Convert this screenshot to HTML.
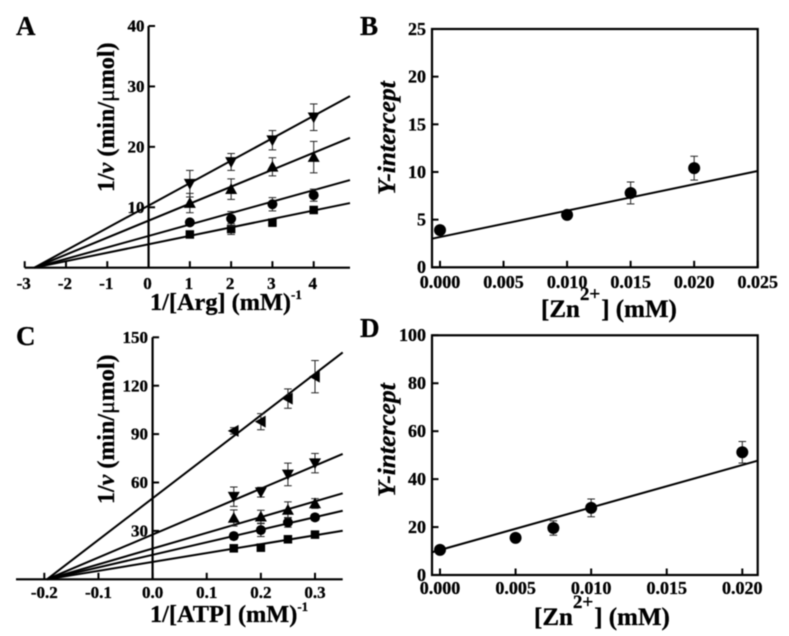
<!DOCTYPE html>
<html lang="en">
<head>
<meta charset="utf-8">
<title>Enzyme kinetics panels</title>
<style>
html,body{margin:0;padding:0;background:#fff;}
#figure{display:block;filter:blur(0.45px);}
text{font-family:"Liberation Serif",serif;font-weight:bold;fill:#000;stroke:#000;stroke-width:0.3px;}
</style>
</head>
<body>
<svg id="figure" xmlns="http://www.w3.org/2000/svg" width="789" height="636" viewBox="0 0 789 636">
<rect width="789" height="636" fill="#fff"/>
<text x="16" y="35" font-size="27">A</text>
<text x="360" y="35" font-size="27">B</text>
<text x="16" y="345" font-size="27">C</text>
<text x="360" y="337" font-size="27">D</text>

<text x="150" y="310" font-size="24.3">1/[Arg] (mM)<tspan dy="-11" font-size="13">-1</tspan></text>
<text transform="translate(114,192) rotate(-90)" font-size="24">1/<tspan font-style="italic">v</tspan> (min/<tspan font-weight="normal">μ</tspan>mol)</text>

<text x="541" y="317" font-size="25">[Zn<tspan dy="-17" font-size="19">2+</tspan><tspan dy="17" dx="1">] (mM)</tspan></text>
<text transform="translate(395,195) rotate(-90)" font-size="25.5" font-style="italic">Y-intercept</text>

<text x="150" y="622" font-size="24.3">1/[ATP] (mM)<tspan dy="-11" font-size="13">-1</tspan></text>
<text transform="translate(114,504) rotate(-90)" font-size="24">1/<tspan font-style="italic">v</tspan> (min/<tspan font-weight="normal">μ</tspan>mol)</text>

<text x="534" y="625" font-size="25">[Zn<tspan dy="-17" font-size="19">2+</tspan><tspan dy="17" dx="1">] (mM)</tspan></text>
<text transform="translate(395,497) rotate(-90)" font-size="25.5" font-style="italic">Y-intercept</text>
</svg>
<script>
// Panel A data
const aXValues = [1, 2, 3, 4];
const aSquare = [5.5, 6.4, 7.45, 9.55];
const aSquareErr = [0.3, 0.9, 0.3, 0.3];
const aCircle = [7.5, 8.1, 10.5, 12];
const aCircleErr = [0.3, 1.2, 1.1, 1];
const aUp = [10.7, 13, 16.7, 18.3];
const aUpErr = [1.6, 1.7, 1.5, 2.6];
const aDown = [13.9, 17.5, 21.1, 24.9];
const aDownErr = [2.2, 1.4, 1.6, 2.2];
const aFitEnd = [10.7, 14.5, 21.5, 28.4];
const aXTicks = [-3, -2, -1, 0, 1, 2, 3, 4];
const aXTickLabels = ['-3', '-2', '-1', '0', '1', '2', '3', '4'];
const aYTicks = [10, 20, 30, 40];
const aYTickLabels = ['10', '20', '30', '40'];

// Panel B data
const bXValues = [0, 0.01, 0.015, 0.02];
const bValues = [3.9, 5.5, 7.8, 10.4];
const bErr = [0.2, 0.3, 1.15, 1.25];
const bFit = [3, 10.1];
const bXTicks = [0, 0.005, 0.01, 0.015, 0.02, 0.025];
const bXTickLabels = ['0.000', '0.005', '0.010', '0.015', '0.020', '0.025'];
const bYTicks = [0, 5, 10, 15, 20, 25];
const bYTickLabels = ['0', '5', '10', '15', '20', '25'];

// Panel C data
const cXValues = [0.15, 0.2, 0.25, 0.3];
const cSquare = [19.2, 19.6, 24.8, 27.7];
const cSquareErr = [1.5, 1.5, 1, 2];
const cCircle = [26.8, 30.5, 35.3, 38.4];
const cCircleErr = [2, 4, 3, 2];
const cUp = [38, 38.8, 43, 47];
const cUpErr = [5, 4, 5, 3];
const cDown = [51.2, 54, 65, 72];
const cDownErr = [6, 3, 7, 6];
const cLeft = [92, 97.7, 112, 125.6];
const cLeftErr = [2, 5, 6, 10];
const cFitEnd = [30.1, 42.5, 53.3, 77.7, 140.6];
const cXTicks = [-0.2, -0.1, 0, 0.1, 0.2, 0.3];
const cXTickLabels = ['-0.2', '-0.1', '0.0', '0.1', '0.2', '0.3'];
const cYTicks = [30, 60, 90, 120, 150];
const cYTickLabels = ['30', '60', '90', '120', '150'];

// Panel D data
const dXValues = [0, 0.005, 0.0075, 0.01, 0.02];
const dValues = [10.5, 15.5, 19.6, 28, 51.2];
const dErr = [1, 1.5, 3, 3.7, 4.5];
const dFit = [9.5, 47.7];
const dXTicks = [0, 0.005, 0.01, 0.015, 0.02];
const dXTickLabels = ['0.000', '0.005', '0.010', '0.015', '0.020'];
const dYTicks = [0, 20, 40, 60, 80, 100];
const dYTickLabels = ['0', '20', '40', '60', '80', '100'];

const svg = document.getElementById('figure');
const NS = 'http://www.w3.org/2000/svg';

function add(parent, tag, attrs) {
  const el = document.createElementNS(NS, tag);
  for (const k in attrs) el.setAttribute(k, attrs[k]);
  parent.appendChild(el);
  return el;
}

function scale(d0, d1, p0, p1) {
  return v => p0 + (v - d0) * (p1 - p0) / (d1 - d0);
}

function seg(parent, x1, y1, x2, y2, w) {
  return add(parent, 'line', {x1, y1, x2, y2, stroke: '#000', 'stroke-width': w});
}

function marker(parent, kind, cx, cy, s) {
  if (kind === 'circle') return add(parent, 'circle', {cx, cy, r: s, fill: '#000'});
  if (kind === 'square') return add(parent, 'rect', {x: cx - s * 0.85, y: cy - s * 0.85, width: s * 1.7, height: s * 1.7, fill: '#000'});
  const r = s * 1.2;
  let pts;
  if (kind === 'up') pts = [[cx - r, cy + r * 0.8], [cx + r, cy + r * 0.8], [cx, cy - r]];
  if (kind === 'down') pts = [[cx - r, cy - r * 0.8], [cx + r, cy - r * 0.8], [cx, cy + r]];
  if (kind === 'left') pts = [[cx + r * 0.8, cy - r], [cx + r * 0.8, cy + r], [cx - r, cy]];
  return add(parent, 'polygon', {points: pts.map(p => p.join(',')).join(' '), fill: '#000'});
}

function drawAxes(g, p, xs, ys) {
  const tl = 6.5;
  if (p.box) {
    const box = add(g, 'rect', {x: p.left, y: p.top, width: p.right - p.left, height: p.bottom - p.top, fill: 'none', stroke: '#000', 'stroke-width': 2.2});
    
    
  } else {
    const xa = seg(g, p.left, ys(0), p.right, ys(0), 2.2);
    
    
    const ya = seg(g, xs(0), p.top, xs(0), ys(0), 2.2);
    
    
  }
  p.xTicks.forEach((t, i) => {
    const base = p.box ? p.bottom : ys(0);
    const tick = seg(g, xs(t), base, xs(t), base - tl, 2);
    
    
    const lab = add(g, 'text', {x: xs(t) + (p.xLabelDx || 0), y: p.xLabelY, 'font-size': p.tickSize, 'text-anchor': 'middle'});
    lab.textContent = p.xLabels[i];
    
    
  });
  p.yTicks.forEach((t, i) => {
    const base = p.box ? p.left : xs(0);
    const tick = seg(g, base, ys(t), base + tl, ys(t), 2);
    
    
    const lab = add(g, 'text', {x: p.yLabelX, y: ys(t) + p.tickSize * 0.33, 'font-size': p.tickSize, 'text-anchor': 'end'});
    lab.textContent = p.yLabels[i];
    
    
  });
}

function drawPoint(g, id, kind, xp, yp, yLo, yHi, size) {
  const cap = 3.8;
  const stem = add(g, 'line', {x1: xp, y1: yLo, x2: xp, y2: yHi, stroke: '#222', 'stroke-width': 1});
  
  
  const capTop = add(g, 'line', {x1: xp - cap, y1: yHi, x2: xp + cap, y2: yHi, stroke: '#222', 'stroke-width': 1});
  
  
  const capBot = add(g, 'line', {x1: xp - cap, y1: yLo, x2: xp + cap, y2: yLo, stroke: '#222', 'stroke-width': 1});
  
  
  const m = marker(g, kind, xp, yp, size);
  
  
}

function drawLineweaver(p, xVals, kinds, series, errors, fitEnd, xIntercept) {
  const g = add(svg, 'g', {});
  
  
  const xs = scale(p.xD[0], p.xD[1], p.xP[0], p.xP[1]);
  const ys = scale(p.yD[0], p.yD[1], p.yP[0], p.yP[1]);
  drawAxes(g, p, xs, ys);
  series.forEach((vals, s) => {
    const l = add(g, 'line', {x1: xs(xIntercept), y1: ys(0), x2: p.right, y2: ys(fitEnd[s]), stroke: '#000', 'stroke-width': 2});
    
    
    vals.forEach((v, i) => {
      drawPoint(g, p.id + '-' + kinds[s], kinds[s], xs(xVals[i]), ys(v), ys(v - errors[s][i]), ys(v + errors[s][i]), 5);
    });
  });
}

function drawReplot(p, xVals, vals, errs, fit) {
  const g = add(svg, 'g', {});
  
  
  const xs = scale(p.xD[0], p.xD[1], p.xP[0], p.xP[1]);
  const ys = scale(p.yD[0], p.yD[1], p.yP[0], p.yP[1]);
  drawAxes(g, p, xs, ys);
  vals.forEach((v, i) => {
    drawPoint(g, p.id + '-intercept', 'circle', xs(xVals[i]), ys(v), ys(v - errs[i]), ys(v + errs[i]), 6);
  });
  const l = add(g, 'line', {x1: p.left, y1: ys(fit[0]), x2: p.right, y2: ys(fit[1]), stroke: '#000', 'stroke-width': 2});
  
  
}

drawLineweaver({
  id: 'panel-a', xD: [-3, 4], xP: [24.7, 313.7], yD: [0, 40], yP: [267.7, 26],
  left: 24.7, right: 350, top: 26,
  xTicks: aXTicks, xLabels: aXTickLabels, yTicks: aYTicks, yLabels: aYTickLabels,
  xLabelY: 289, yLabelX: 144.5, tickSize: 17, xLabelDx: -1
}, aXValues, ['square', 'circle', 'up', 'down'], [aSquare, aCircle, aUp, aDown], [aSquareErr, aCircleErr, aUpErr, aDownErr], aFitEnd, -2.77);

drawReplot({
  id: 'panel-b', box: true, xD: [0, 0.025], xP: [440, 757.7], yD: [0, 25], yP: [267.3, 29],
  left: 432, right: 757.7, top: 29, bottom: 267.3,
  xTicks: bXTicks, xLabels: bXTickLabels, yTicks: bYTicks, yLabels: bYTickLabels,
  xLabelY: 288, yLabelX: 426, tickSize: 18
}, bXValues, bValues, bErr, bFit);

drawLineweaver({
  id: 'panel-c', xD: [-0.2, 0.3], xP: [44.3, 315], yD: [0, 150], yP: [579.3, 337.3],
  left: 16, right: 342.7, top: 337.3,
  xTicks: cXTicks, xLabels: cXTickLabels, yTicks: cYTicks, yLabels: cYTickLabels,
  xLabelY: 598, yLabelX: 148, tickSize: 17
}, cXValues, ['square', 'circle', 'up', 'down', 'left'], [cSquare, cCircle, cUp, cDown, cLeft], [cSquareErr, cCircleErr, cUpErr, cDownErr, cLeftErr], cFitEnd, -0.195);

drawReplot({
  id: 'panel-d', box: true, xD: [0, 0.02], xP: [440, 742.3], yD: [0, 100], yP: [575, 335.3],
  left: 432, right: 757.7, top: 335.3, bottom: 575,
  xTicks: dXTicks, xLabels: dXTickLabels, yTicks: dYTicks, yLabels: dYTickLabels,
  xLabelY: 594, yLabelX: 426, tickSize: 18
}, dXValues, dValues, dErr, dFit);
</script>
</body>
</html>
